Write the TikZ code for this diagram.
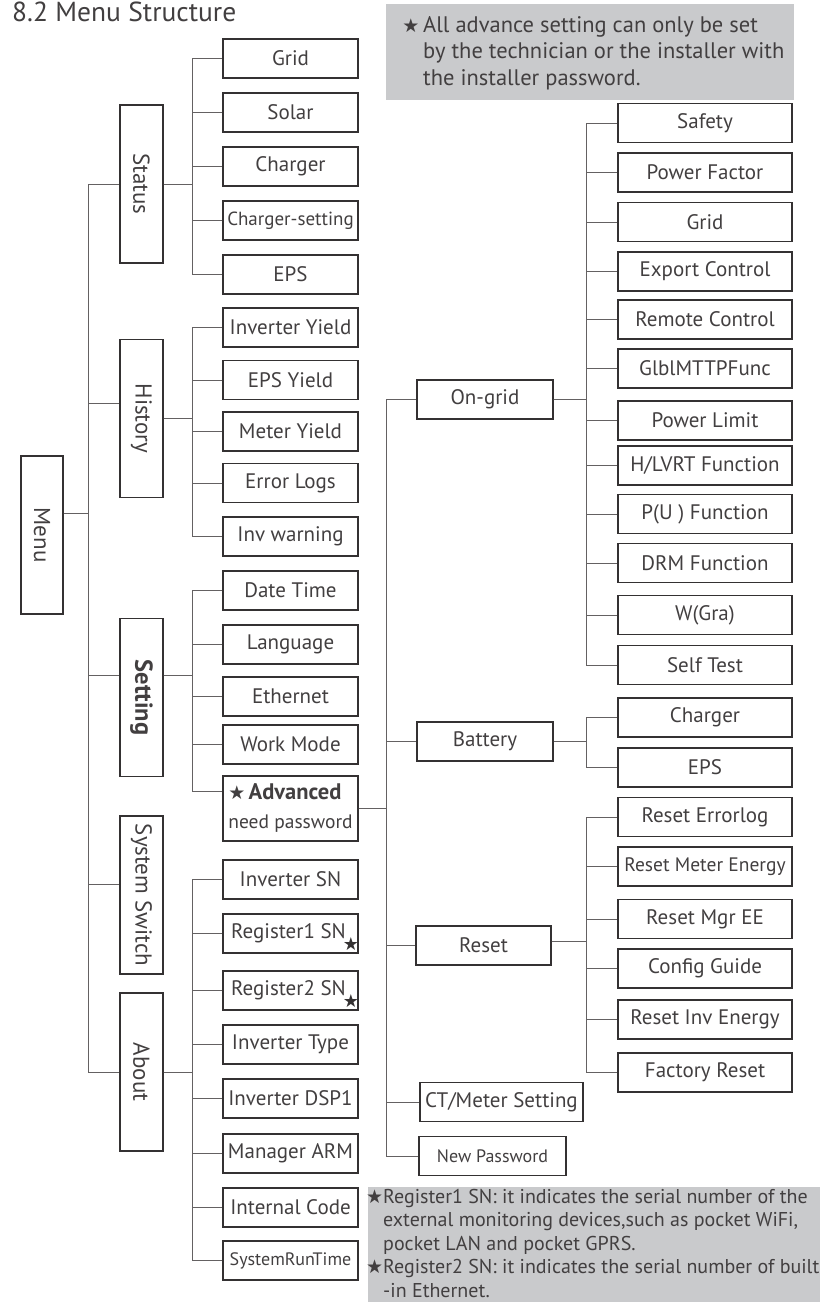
\documentclass[tikz,border=0pt]{standalone}
\usepackage{fontspec}
\setmainfont{PT Sans}
\newfontfamily\starfont{DejaVu Sans}
\usepackage{xcolor}
\usepackage{tikz}
\usetikzlibrary{positioning, calc}
\definecolor{boxline}{RGB}{52, 49, 50}
\definecolor{linkgray}{RGB}{100, 97, 98}
\definecolor{labelgray}{RGB}{66, 63, 64}
\definecolor{notegray}{RGB}{201, 202, 204}
\newcommand{\smallstar}{{\starfont\fontsize{19}{19}\selectfont ★}}

\begin{document}
\begin{tikzpicture}[
  x=1pt, y=-1pt,
  menubox/.style={draw=boxline, line width=1.2pt, minimum width=43pt,
                  minimum height=158pt, inner sep=0pt, text=labelgray,
                  font=\fontsize{23}{27}\selectfont},
  item/.style={draw=boxline, line width=1.2pt, minimum width=135pt,
               minimum height=39pt, inner sep=0pt, text=labelgray,
               font=\fontsize{21}{25}\selectfont},
  wideitem/.style={item, minimum width=174pt},
  link/.style={draw=linkgray, line width=0.9pt},
  notebox/.style={fill=notegray, inner sep=0pt, anchor=north west},
  notetext/.style={anchor=north west, align=left, inner sep=0pt, text=labelgray},
  starmark/.style={inner sep=0pt, text=boxline, font=\starfont\fontsize{18}{18}\selectfont}
]
  \useasboundingbox (0,0) rectangle (820,1302);

  % title and notes
  \node[anchor=base west, inner sep=0pt, text=labelgray,
        font=\fontsize{27.5}{32}\selectfont] (title) at (12,21) {8.2 Menu Structure};

  \node[notebox, minimum width=408pt, minimum height=96pt] (topnote) at (386,4) {};
  \node[notetext, font=\fontsize{22.5}{26.5}\selectfont] (topnotetext) at (423,16)
    {\llap{\smallstar\,}All advance setting can only be set\\
     by the technician or the installer with\\
     the installer password.};

  \node[notebox, minimum width=452pt, minimum height=115pt] (footnote) at (368,1187) {};
  \node[notetext, font=\fontsize{20}{23.5}\selectfont] (footnotetext) at (383,1189)
    {\llap{\smallstar}Register1 SN: it indicates the serial number of the\\
     external monitoring devices,such as pocket WiFi,\\
     pocket LAN and pocket GPRS.\\
     \llap{\smallstar}Register2 SN: it indicates the serial number of built\\
     -in Ethernet.};

  % menu and first level
  \node[menubox, minimum width=42pt] (menu) at (42,535) {\rotatebox{-90}{Menu}};
  \node[menubox] (status) at (141.5,184) {\rotatebox{-90}{Status}};
  \node[menubox] (history) at (141.5,418.5) {\rotatebox{-90}{History}};
  \node[menubox, font=\fontsize{24.5}{28}\selectfont] (setting) at (141.5,697.5)
    {\rotatebox{-90}{\bfseries Setting}};
  \node[menubox] (sysswitch) at (141.5,895) {\rotatebox{-90}{System Switch}};
  \node[menubox] (about) at (141.5,1072) {\rotatebox{-90}{About}};

  % status
  \node[item] (grid) at (290.5,58.5) {Grid};
  \node[item] (solar) at (290.5,112.5) {Solar};
  \node[item] (charger) at (290.5,166.5) {Charger};
  \node[item, font=\fontsize{19}{22}\selectfont] (chset) at (290.5,220.5) {Charger-setting};
  \node[item] (eps) at (290.5,274.5) {EPS};

  % history
  \node[item] (invyield) at (290.5,327.5) {Inverter Yield};
  \node[item] (epsyield) at (290.5,380) {EPS Yield};
  \node[item] (meteryield) at (290.5,431.5) {Meter Yield};
  \node[item] (errlogs) at (290.5,483) {Error Logs};
  \node[item] (invwarn) at (290.5,536.5) {Inv warning};

  % setting
  \node[item] (datetime) at (290.5,590.5) {Date Time};
  \node[item] (language) at (290.5,644.5) {Language};
  \node[item] (ethernet) at (290.5,696.5) {Ethernet};
  \node[item] (workmode) at (290.5,744.5) {Work Mode};
  \node[item, minimum height=65pt, align=left, font=\fontsize{19.5}{29}\selectfont]
    (advanced) at (290.5,808.5)
    {\smallstar\,{\fontsize{22.5}{29}\selectfont\bfseries Advanced}\\need password};

  % about
  \node[item] (invsn) at (290.5,879.5) {Inverter SN};
  \node[item] (reg1) at (290.5,933.5) {Register1 SN\hspace*{4pt}};
  \node[item] (reg2) at (290.5,990.5) {Register2 SN\hspace*{4pt}};
  \node[item] (invtype) at (290.5,1044.5) {Inverter Type};
  \node[item] (invdsp) at (290.5,1098.5) {Inverter DSP1};
  \node[item] (mgrarm) at (290.5,1153.5) {Manager ARM};
  \node[item] (intcode) at (290.5,1207.5) {Internal Code};
  \node[item, font=\fontsize{18}{21}\selectfont] (runtime) at (290.5,1260.5) {SystemRunTime};
  \node[starmark] (reg1star) at (351,944.5) {★};
  \node[starmark] (reg2star) at (351,1001.5) {★};

  % advanced
  \node[item, minimum width=136pt] (ongrid) at (485,399.5) {On-grid};
  \node[item, minimum width=136pt] (battery) at (485,741.5) {Battery};
  \node[item] (reset) at (483.5,945.5) {Reset};
  \node[item, minimum width=163pt] (ctmeter) at (501.5,1102) {CT/Meter Setting};
  \node[item, minimum width=147pt, font=\fontsize{18}{21}\selectfont] (newpw) at (492.5,1156) {New Password};

  % on-grid
  \node[wideitem] (safety) at (705,123) {Safety};
  \node[wideitem] (pfactor) at (705,172.5) {Power Factor};
  \node[wideitem] (gridset) at (705,222) {Grid};
  \node[wideitem] (export) at (705,271.5) {Export Control};
  \node[wideitem] (remote) at (705,319.5) {Remote Control};
  \node[wideitem] (glblmppt) at (705,368.5) {GlblMTTPFunc};
  \node[wideitem] (plimit) at (705,420.5) {Power Limit};
  \node[wideitem] (hlvrt) at (705,465.5) {H/LVRT Function};
  \node[wideitem] (pufunc) at (705,514) {P(U ) Function};
  \node[wideitem] (drm) at (705,563) {DRM Function};
  \node[wideitem] (wgra) at (705,615) {W(Gra)};
  \node[wideitem] (selftest) at (705,665) {Self Test};

  % battery
  \node[wideitem] (batcharger) at (705,717.5) {Charger};
  \node[wideitem] (bateps) at (705,767.5) {EPS};

  % reset
  \node[wideitem] (rsterr) at (705,817) {Reset Errorlog};
  \node[wideitem, font=\fontsize{19.5}{23}\selectfont] (rstmeter) at (705,866.5) {Reset Meter Energy};
  \node[wideitem] (rstmgr) at (705,919) {Reset Mgr EE};
  \node[wideitem] (config) at (705,968.5) {Config Guide};
  \node[wideitem] (rstinv) at (705,1019.5) {Reset Inv Energy};
  \node[wideitem] (factory) at (705,1072.5) {Factory Reset};

  % connectors
  \foreach \c/\s in {status/0, history/15.5, setting/22.5, sysswitch/11, about/0}
    \draw[link] ([yshift=22pt]menu.east) -- ++(25,0) |- ([yshift=\s pt]\c.west);
  \foreach \c in {grid, solar, charger, chset, eps}
    \draw[link] (status.east) -- ++(29,0) |- (\c.west);
  \foreach \c in {invyield, epsyield, meteryield, errlogs, invwarn}
    \draw[link] (history.east) -- ++(29,0) |- (\c.west);
  \foreach \c/\s in {datetime/0, language/0, ethernet/0, workmode/0, advanced/17.5}
    \draw[link] ([yshift=22.5pt]setting.east) -- ++(29,0) |- ([yshift=\s pt]\c.west);
  \foreach \c in {invsn, reg1, reg2, invtype, invdsp, mgrarm, intcode, runtime}
    \draw[link] (about.east) -- ++(29,0) |- (\c.west);
  \foreach \c in {ongrid, battery, reset, ctmeter, newpw}
    \draw[link] (advanced.east) -- ++(28,0) |- (\c.west);
  \foreach \c in {safety, pfactor, gridset, export, remote, glblmppt, plimit, hlvrt, pufunc, drm, wgra, selftest}
    \draw[link] (ongrid.east) -- ++(33,0) |- (\c.west);
  \foreach \c in {batcharger, bateps}
    \draw[link] (battery.east) -- ++(33,0) |- (\c.west);
  \foreach \c in {rsterr, rstmeter, rstmgr, config, rstinv, factory}
    \draw[link] ([yshift=4.5pt]reset.east) -- ++(35,0) |- (\c.west);
\end{tikzpicture}
\end{document}
